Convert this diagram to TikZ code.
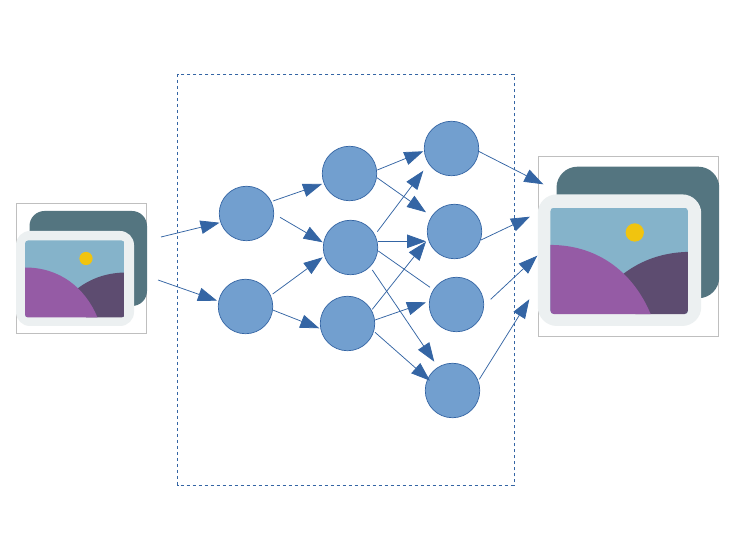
\documentclass[tikz,border=0pt]{standalone}
\usetikzlibrary{arrows.meta,calc}
\definecolor{lnblue}{HTML}{3465A4}
\definecolor{nodeblue}{HTML}{729FCF}
\definecolor{backcard}{HTML}{547580}
\definecolor{frontcard}{HTML}{ECF0F1}
\definecolor{sky}{HTML}{85B3CA}
\definecolor{sunc}{HTML}{F1C40F}
\definecolor{hillfront}{HTML}{955BA5}
\definecolor{hillback}{HTML}{5D4C70}
\tikzset{
  neuron/.style={circle,draw=lnblue,fill=nodeblue,line width=0.7pt,minimum size=54.5pt,inner sep=0pt},
  conn/.style={draw=lnblue,line width=0.75pt,-{Triangle[length=19pt,width=13.5pt,fill=lnblue]}},
  plainconn/.style={draw=lnblue,line width=0.75pt},
  dashbox/.style={draw=lnblue,line width=0.8pt,dash pattern=on 3.5pt off 2.5pt},
  framebox/.style={draw=black!25,line width=0.8pt}
}
% #1 x, #2 y, #3 scale, #4 back radius, #5 front radius, #6 inner radius
\newcommand{\photoicon}[6]{%
  \begin{scope}[shift={(#1,#2)},x=#3pt,y=-#3pt]
    \draw[framebox] (0,0) rectangle (130,130);
    \fill[backcard,rounded corners=#4pt] (13,7.5) rectangle (130.5,102.5);
    \fill[frontcard,rounded corners=#5pt] (-0.5,27.5) rectangle (117.5,122.5);
    \begin{scope}
      \path[clip,rounded corners=#6pt] (8.5,37) rectangle (108,114);
      \fill[sky] (8.5,37) rectangle (108,114);
      \fill[hillback] (50,95) .. controls (68,76) and (88,69.5) .. (108,69) -- (108,114) -- (70,114) -- cycle;
      \fill[hillfront] (8.5,64) .. controls (44,64) and (69,85) .. (81,114) -- (8.5,114) -- cycle;
    \end{scope}
    \fill[sunc] (69.5,55) circle (6.6);
  \end{scope}}
\begin{document}
\begin{tikzpicture}[x=1pt,y=-1pt]
\useasboundingbox (0,0) rectangle (748,545);
\fill[white] (0,0) rectangle (748,545);
\draw[dashbox] (177.7,74) rectangle (514,485);
\photoicon{16.5}{203.5}{1}{15}{14}{3}
\photoicon{538.5}{156.3}{1.385}{21}{19}{4}
\node[neuron] (A) at (246.5,213.5) {};
\node[neuron] (B) at (245.5,306.5) {};
\node[neuron] (C) at (349.5,173.5) {};
\node[neuron] (D) at (350.5,247.5) {};
\node[neuron] (E) at (347.5,323.5) {};
\node[neuron] (F) at (451.5,148.5) {};
\node[neuron] (G) at (454.5,231.5) {};
\node[neuron] (H) at (456.5,304.5) {};
\node[neuron] (I) at (452.5,390.5) {};
\coordinate (in1) at (161,237);
\coordinate (in2) at (158,280);
\coordinate (out1) at (543.3,184.3);
\coordinate (out2) at (530,216.7);
\coordinate (out3) at (537.3,255.7);
\coordinate (out4) at (529.3,299.3);
\draw[conn] (in1) -- ($(A)+(-27,9.2)$);
\draw[conn] (in2) -- ($(B)+(-28.5,-5.8)$);
\draw[conn] ($(A)+(26.5,-12.5)$) -- ($(C)+(-27.5,10.5)$);
\draw[conn] ($(A)+(33.5,3.8)$) -- ($(D)+(-27.8,-5.2)$);
\draw[conn] ($(B)+(27.2,-12.5)$) -- ($(D)+(-27.8,9.8)$);
\draw[conn] ($(B)+(27.2,3.5)$) -- ($(E)+(-28.2,4.8)$);
\draw[conn] ($(C)+(27.8,-3.5)$) -- ($(F)+(-28.2,2.8)$);
\draw[conn] ($(C)+(27.5,4.2)$) -- ($(G)+(-28.5,-19.2)$);
\draw[conn] ($(D)+(26.8,-15.8)$) -- ($(F)+(-28.2,22.2)$);
\draw[conn] ($(D)+(27.5,-6.2)$) -- ($(G)+(-28.5,9.8)$);
\draw[plainconn] ($(D)+(27.8,3.5)$) -- ($(H)+(-26.5,-17.2)$);
\draw[conn] ($(D)+(21.8,22.5)$) -- ($(I)+(-18.2,-28.8)$);
\draw[conn] ($(E)+(24.8,-14.2)$) -- ($(G)+(-28.5,10.2)$);
\draw[conn] ($(E)+(27.5,-3.5)$) -- ($(H)+(-30.5,-2.2)$);
\draw[conn] ($(E)+(27.5,8.8)$) -- ($(I)+(-22.5,-9.8)$);
\draw[conn] ($(F)+(26.5,2.5)$) -- (out1);
\draw[conn] ($(G)+(26.5,8.5)$) -- (out2);
\draw[conn] ($(H)+(34.2,-5.2)$) -- (out3);
\draw[conn] ($(I)+(26.8,-11.2)$) -- (out4);
\end{tikzpicture}
\end{document}
